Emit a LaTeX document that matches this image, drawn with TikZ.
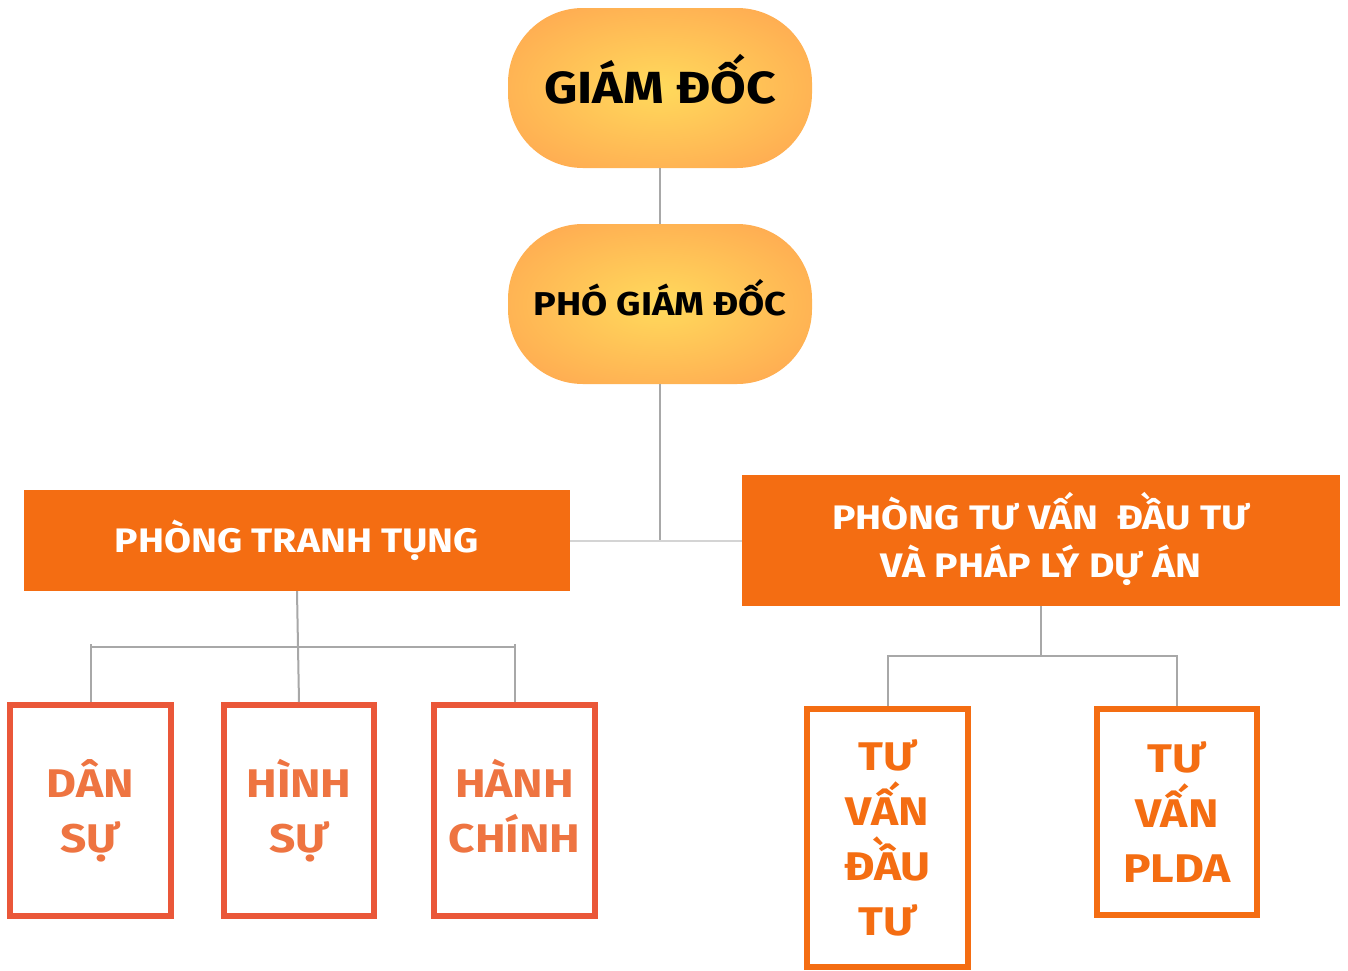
\documentclass[tikz,border=0pt]{standalone}
\usepackage{fontspec}
\setmainfont{Fira Sans}[FakeStretch=1.15]
\definecolor{yel}{HTML}{FFDA5C}
\definecolor{pillor}{HTML}{FFA04F}
\definecolor{orng}{HTML}{F46D12}
\definecolor{redor}{HTML}{EA5739}
\definecolor{txtor}{HTML}{EE7441}
\definecolor{ln}{HTML}{A8A8A8}
\definecolor{lnlight}{HTML}{D4D4D4}
\pgfdeclareradialshading{pillshade}{\pgfpoint{0bp}{0bp}}{color(0bp)=(yel); color(38bp)=(pillor); color(72bp)=(pillor)}
\tikzset{
  pill/.style={shading=pillshade, rounded corners=75pt, minimum width=304pt, minimum height=160pt, inner sep=0pt, text=black, text depth=0pt},
  dept/.style={fill=orng, text=white, inner sep=0pt, align=center},
  subbox/.style={draw=redor, line width=6pt, fill=white, text=txtor, inner sep=0pt, align=center, font=\bfseries\fontsize{40}{55}\selectfont},
  subbox2/.style={subbox, draw=orng, text=orng},
  conn/.style={draw=ln, line width=2pt},
  connlight/.style={draw=lnlight, line width=2pt}
}
\begin{document}
\begin{tikzpicture}[x=1pt,y=-1pt]
\useasboundingbox (0,0) rectangle (1348,970);
% top
\node[pill, text height=31pt, font=\bfseries\fontsize{45}{54}\selectfont] (gd) at (660,88) {GIÁM ĐỐC};
\node[pill, text height=23pt, font=\bfseries\fontsize{33}{40}\selectfont] (pgd) at (660,304) {PHÓ GIÁM ĐỐC};
% departments
\node[dept, minimum width=546pt, minimum height=101pt, text height=24pt, text depth=0pt, font=\bfseries\fontsize{34}{42}\selectfont] (ptt) at (297,540.5) {PHÒNG TRANH TỤNG};
\node[dept, minimum width=598pt, minimum height=131pt, font=\bfseries\fontsize{34}{48}\selectfont] (ptv) at (1041,540.5) {PHÒNG TƯ VẤN~ ĐẦU TƯ\\VÀ PHÁP LÝ DỰ ÁN\rule[-12pt]{0pt}{1pt}};
% sub boxes left
\node[subbox, minimum width=161pt, minimum height=211pt] (ds) at (90.5,810.5) {DÂN\\SỰ};
\node[subbox, minimum width=150pt, minimum height=211pt] (hs) at (299,810.5) {HÌNH\\SỰ};
\node[subbox, minimum width=161pt, minimum height=211pt] (hc) at (514.5,810.5) {HÀNH\\CHÍNH\vphantom{Ự}};
% sub boxes right
\node[subbox2, minimum width=161pt, minimum height=258pt] (tvdt) at (887.5,838) {TƯ\\VẤN\\ĐẦU\\TƯ};
\node[subbox2, minimum width=160pt, minimum height=206pt] (tvpl) at (1177,812) {TƯ\\VẤN\\PLDA};
% connectors
\coordinate (lbar) at (0,647);
\coordinate (rbar) at (0,656);
\draw[conn] (gd.south) -- (pgd.north);
\draw[conn] (pgd.south) -- (pgd.south |- ptt.east);
\draw[connlight] (ptt.east) -- (ptv.west);
\draw[conn] (ptt.south) -- (hs.north);
\draw[conn] ([yshift=3pt]ds.north |- lbar) -- (ds.north);
\draw[conn] ([yshift=3pt]hc.north |- lbar) -- (hc.north);
\draw[conn] (ds.north |- lbar) -- (hc.north |- lbar);
\draw[conn] (ptv.south) -- (ptv.south |- rbar);
\draw[conn] (tvdt.north) -- (tvdt.north |- rbar) -- (tvpl.north |- rbar) -- (tvpl.north);
\end{tikzpicture}
\end{document}
